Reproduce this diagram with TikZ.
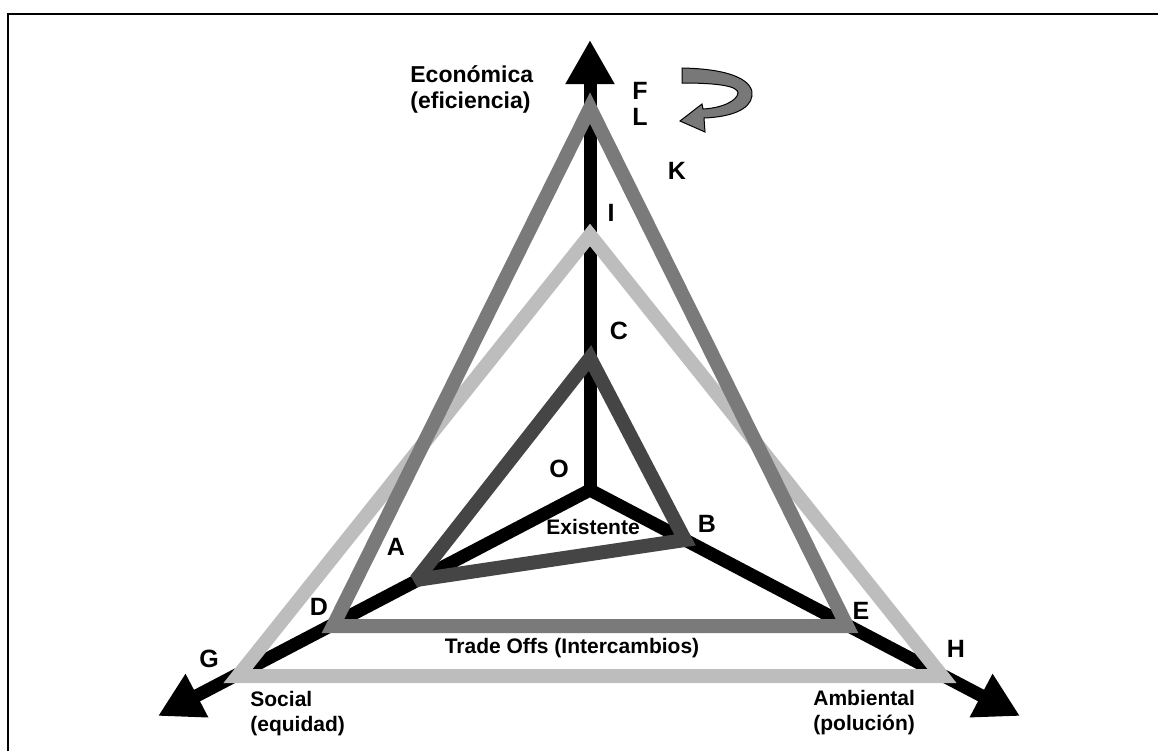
\documentclass[tikz,border=0pt]{standalone}
\usepackage{fontspec}
\setmainfont{Liberation Sans}
\usepackage{tikz}
\usetikzlibrary{arrows.meta}

\definecolor{darktri}{gray}{0.27}
\definecolor{midtri}{gray}{0.48}
\definecolor{lighttri}{gray}{0.74}
\definecolor{turngray}{gray}{0.47}

\begin{document}
\begin{tikzpicture}[x=0.5pt,y=-0.5pt,
  axis/.style={line width=6.5pt, line cap=round, -{Triangle[length=22pt,width=23pt]}},
  side/.style={line width=7pt, line join=miter, miter limit=2.5},
  lbl/.style={font=\fontsize{12.5}{14}\selectfont\bfseries, inner sep=0pt},
  txt/.style={font=\fontsize{10.5}{12.5}\selectfont\bfseries, align=left, inner sep=0pt}]

\useasboundingbox (0,0) rectangle (1158,751);
\draw [line width=1pt] (8,751) -- (8,14) -- (1158,14);

% axes
\coordinate (O) at (590,490);
\coordinate (econ) at (590,40);
\coordinate (soc) at (158,716);
\coordinate (amb) at (1020,716);
\foreach \e in {econ,soc,amb} {\draw [axis] (O) -- (\e);}

% triangles
\coordinate (pC) at (590,358);
\coordinate (pA) at (416,580);
\coordinate (pB) at (685,540);
\coordinate (pF) at (590,108);
\coordinate (pD) at (333,626);
\coordinate (pE) at (847,626);
\coordinate (pI) at (590,235);
\coordinate (pG) at (238,676);
\coordinate (pH) at (942,676);

\draw [side, lighttri] (pI) -- (pG) -- (pH) -- cycle;
\draw [side, midtri] (pF) -- (pD) -- (pE) -- cycle;
\draw [side, darktri] (pC) -- (pA) -- (pB) -- cycle;

% turning arrow
\filldraw [fill=turngray, draw=black, line width=0.5pt]
  (682,68) .. controls (735,69) and (754,82) .. (752,96)
  .. controls (750,110) and (730,117) .. (704,118)
  -- (705,132) -- (680,121) -- (702,104) -- (703,109)
  .. controls (722,108) and (737,101) .. (738,93)
  .. controls (738,86) and (718,83) .. (682,83) -- cycle;

\foreach \n/\x/\y in {F/640/91, L/640/117, K/677/171, I/611/213, C/619/331,
  O/559/469, A/396/547, B/707/524, D/319/607, G/209/659, E/861/611, H/956/649}
  {\node [lbl] (\n) at (\x,\y) {\n};}

\node [txt, font=\fontsize{11.5}{13}\selectfont\bfseries, anchor=west] (econtxt) at (410,89) {Económica\\(eficiencia)};
\node [txt, anchor=west] (soctxt) at (250,714) {Social\\(equidad)};
\node [txt, anchor=west] (ambtxt) at (813,713) {Ambiental\\(polución)};
\node [txt] (exist) at (593,527) {Existente};
\node [txt] (trade) at (572,648) {Trade Offs (Intercambios)};

\end{tikzpicture}
\end{document}
